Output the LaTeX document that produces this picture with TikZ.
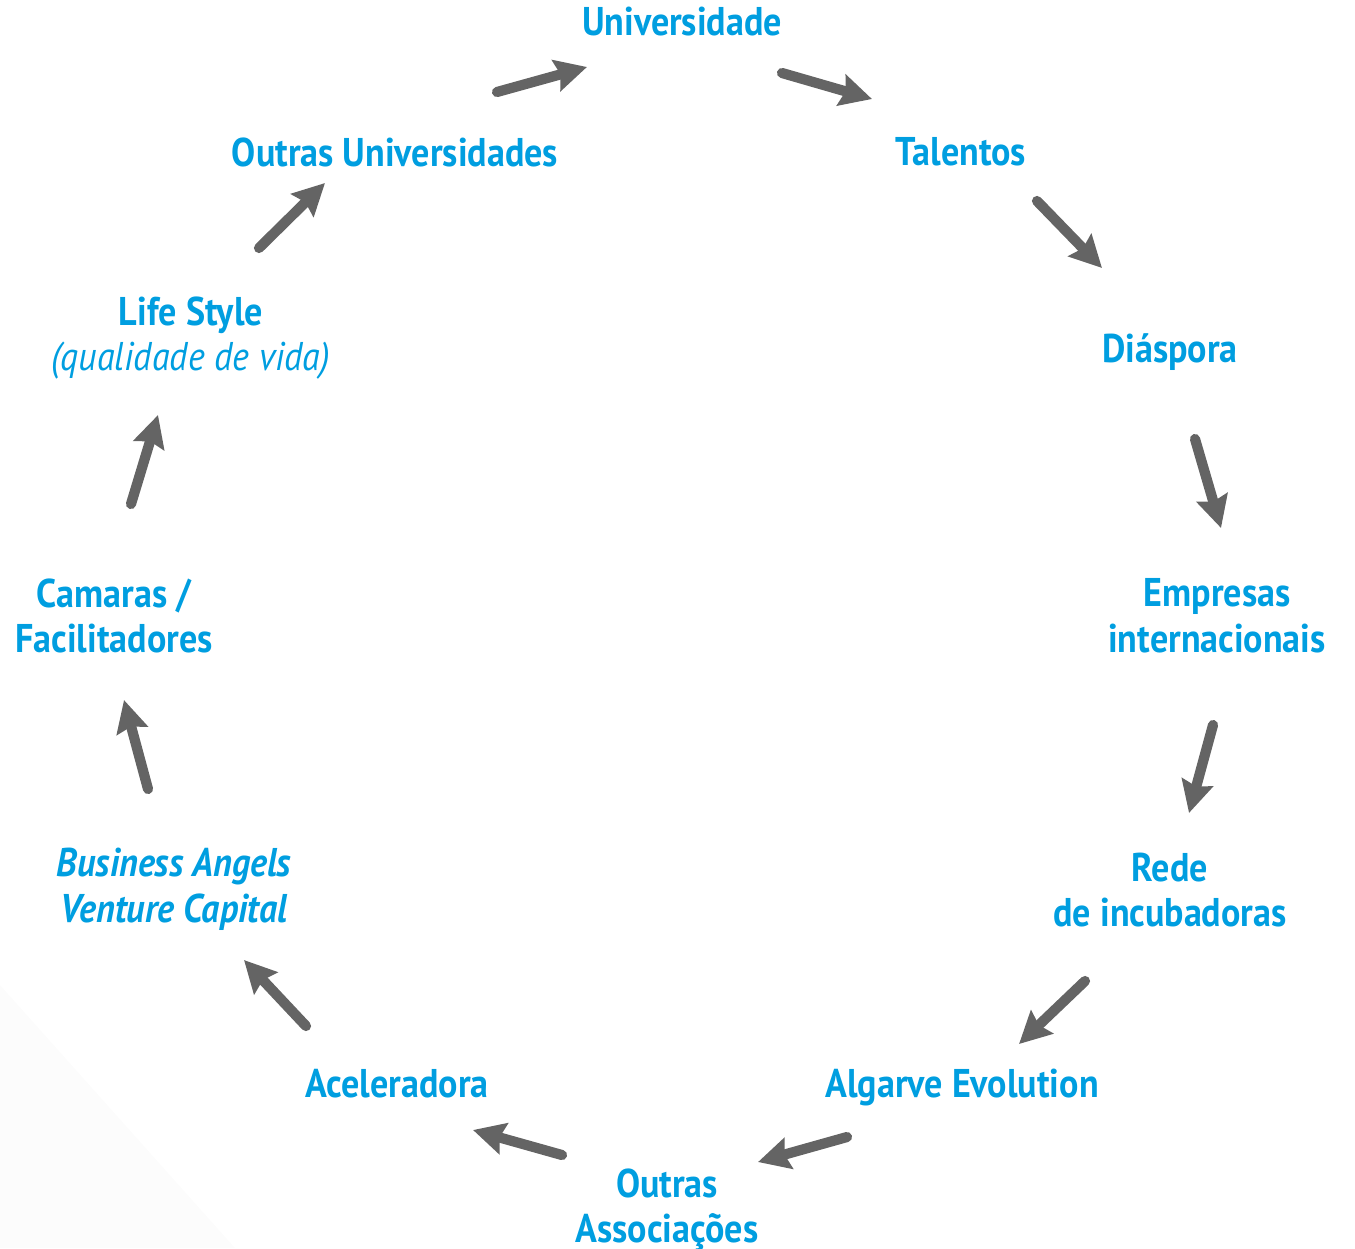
\documentclass[tikz,border=0pt]{standalone}
\usepackage{fontspec}
\setmainfont{PT Sans}[FakeStretch=0.9]
\usetikzlibrary{arrows.meta}
\definecolor{azul}{RGB}{0,158,224}
\definecolor{cinza}{RGB}{100,100,100}
\tikzstyle{item} = [text=azul, font=\fontsize{11.4}{13}\selectfont\bfseries, align=center, inner sep=0pt]
\tikzstyle{seta} = [draw=cinza, line width=2.9pt, line cap=round, -{Stealth[length=9pt,width=9pt,inset=1.2pt]}]

\begin{document}
\begin{tikzpicture}[x=0.01cm, y=-0.01cm]
	\useasboundingbox (0,0) rectangle (1355,1248);
	\fill[black!1] (0,985) -- (235,1248) -- (0,1248) -- cycle;
	% itens do ciclo
	\node (univ) [item] at (682,22) {Universidade};
	\node (talentos) [item] at (961,152) {Talentos};
	\node (diaspora) [item] at (1170,352) {Diáspora};
	\node (empresas) [item] at (1217,616) {Empresas\\internacionais};
	\node (rede) [item] at (1170,890) {Rede\\de incubadoras};
	\node (algarve) [item] at (962,1087) {Algarve Evolution};
	\node (assoc) [item] at (667,1210) {Outras\\Associações};
	\node (acel) [item] at (397,1084) {Aceleradora};
	\node (angels) [item, font=\fontsize{11.4}{13}\selectfont\bfseries\itshape] at (174,889) {Business Angels\\Venture Capital};
	\node (camaras) [item] at (114,616) {Camaras /\\Facilitadores};
	\node (life) [item] at (191,338) {Life Style\\{\mdseries\itshape (qualidade de vida)}};
	\node (outras) [item] at (395,152) {Outras Universidades};
	% pontas das setas
	\coordinate (a1) at (497,92);   \coordinate (b1) at (587,67);
	\coordinate (a2) at (782,73);   \coordinate (b2) at (872,99);
	\coordinate (a3) at (1037,201); \coordinate (b3) at (1102,268);
	\coordinate (a4) at (1195,439); \coordinate (b4) at (1221,528);
	\coordinate (a5) at (1213,725); \coordinate (b5) at (1189,813);
	\coordinate (a6) at (1085,981); \coordinate (b6) at (1019,1044);
	\coordinate (a7) at (847,1137); \coordinate (b7) at (758,1162);
	\coordinate (a8) at (562,1155); \coordinate (b8) at (473,1130);
	\coordinate (a9) at (306,1026); \coordinate (b9) at (244,960);
	\coordinate (a10) at (148,789); \coordinate (b10) at (124,700);
	\coordinate (a11) at (131,504); \coordinate (b11) at (158,415);
	\coordinate (a12) at (259,248); \coordinate (b12) at (325,183);
	\draw [seta] (a1) -- (b1);
	\draw [seta] (a2) -- (b2);
	\draw [seta] (a3) -- (b3);
	\draw [seta] (a4) -- (b4);
	\draw [seta] (a5) -- (b5);
	\draw [seta] (a6) -- (b6);
	\draw [seta] (a7) -- (b7);
	\draw [seta] (a8) -- (b8);
	\draw [seta] (a9) -- (b9);
	\draw [seta] (a10) -- (b10);
	\draw [seta] (a11) -- (b11);
	\draw [seta] (a12) -- (b12);
\end{tikzpicture}
\end{document}
